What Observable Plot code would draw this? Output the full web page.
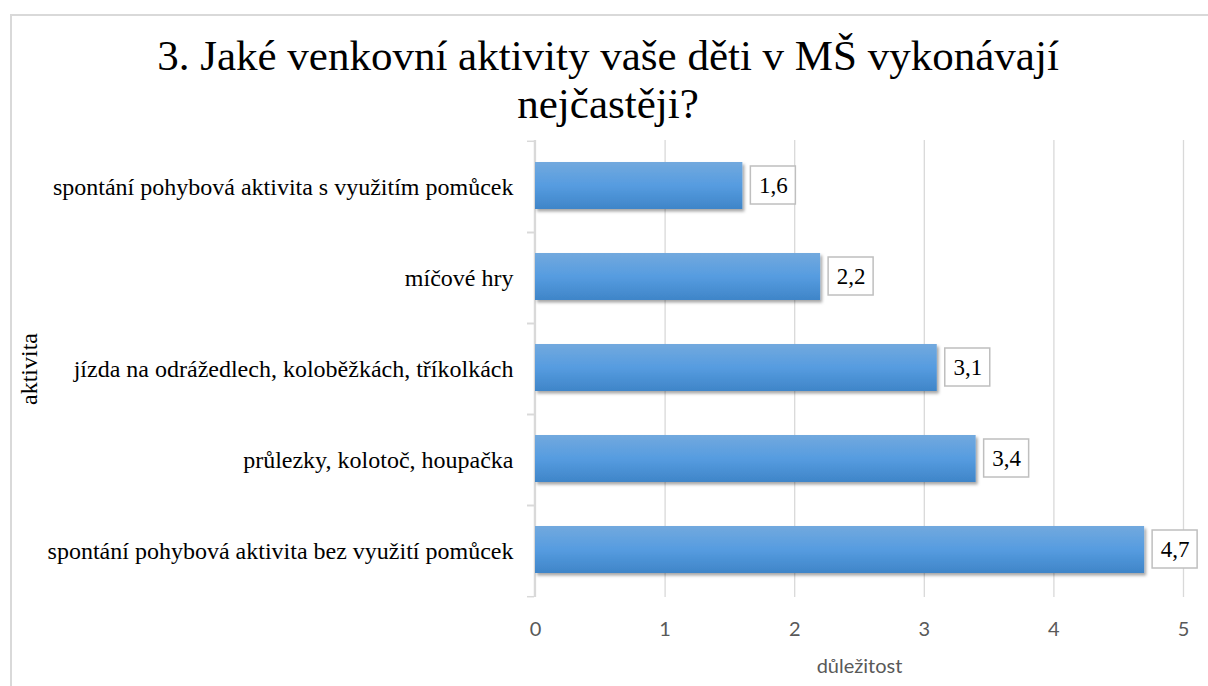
<!DOCTYPE html>
<html><head><meta charset="utf-8">
<script src="https://cdn.jsdelivr.net/npm/d3@7"></script>
<script src="https://cdn.jsdelivr.net/npm/@observablehq/plot@0.6"></script>
<style>
html,body{margin:0;padding:0;background:#fff;}
body{width:1208px;height:686px;position:relative;overflow:hidden;}
#frame{position:absolute;left:10px;top:14px;width:1400px;height:900px;border-left:2px solid #d9d9d9;border-top:2px solid #d9d9d9;box-sizing:border-box;}
#title{position:absolute;left:0;top:32px;width:1216px;text-align:center;font-family:"Liberation Serif","Times New Roman",serif;font-size:43px;line-height:48px;color:#000;z-index:2;}
#chart{position:absolute;left:0;top:0;z-index:1;}
</style></head>
<body>
<div id="frame"></div>
<div id="title"></div>
<div id="chart"></div>
<script>
const titleLines = ["3. Jaké venkovní aktivity vaše děti v MŠ vykonávají", "nejčastěji?"];
const categories = [
  "spontání pohybová aktivita s využitím pomůcek",
  "míčové hry",
  "jízda na odrážedlech, koloběžkách, tříkolkách",
  "průlezky, kolotoč, houpačka",
  "spontání pohybová aktivita bez využití pomůcek"
];
const values = [1.6, 2.2, 3.1, 3.4, 4.7];
const xTicks = [0, 1, 2, 3, 4, 5];
const xLabel = "důležitost";
const yLabel = "aktivita";

const data = categories.map((c, i) => ({category: c, value: values[i], label: String(values[i]).replace(".", ",")}));

const titleEl = document.getElementById("title");
titleEl.appendChild(document.createTextNode(titleLines[0]));
titleEl.appendChild(document.createElement("br"));
titleEl.appendChild(document.createTextNode(titleLines[1]));

const SERIF = "Liberation Serif, Times New Roman, serif";
const SANS = "Lato, Open Sans, sans-serif";
const W = 1208, H = 686, mL = 535, mR = 25, mT = 140, mB = 89;
const step = (H - mT - mB) / categories.length;

const plot = Plot.plot({
  width: W, height: H,
  marginLeft: mL, marginRight: mR, marginTop: mT, marginBottom: mB,
  style: {background: "transparent", overflow: "visible"},
  x: {domain: [0, 5], ticks: xTicks},
  y: {domain: categories, padding: 0},
  marks: [
    Plot.gridX(xTicks, {stroke: "#d9d9d9", strokeOpacity: 1, strokeWidth: 1.3}),
    Plot.ruleX([0], {stroke: "#d9d9d9", strokeWidth: 1.5, dx: -1}),
    Plot.axisY({tickSize: 7, dy: -step / 2, dx: -1, tickFormat: () => "", stroke: "#d9d9d9", strokeWidth: 1.5, label: null}),
    Plot.axisY({tickSize: 7, dy: step / 2, dx: -1, tickFormat: () => "", stroke: "#d9d9d9", strokeWidth: 1.5, label: null}),
    Plot.axisY({tickSize: 0, tickPadding: 22, fontSize: 24, fontFamily: SERIF, fill: "#000",
      label: yLabel, labelAnchor: "center", labelOffset: 516}),
    Plot.axisX(xTicks, {tickSize: 0, tickPadding: 24, fontSize: 20,
      fontFamily: SANS, fill: "#595959",
      tickFormat: d => String(d), label: xLabel, labelAnchor: "center", labelOffset: 75, labelArrow: "none"}),
    Plot.barX(data, {x: "value", y: "category", fill: "url(#barGrad)", insetTop: 21, insetBottom: 23}),
    Plot.barX(data, {x1: "value", x2: "value", y: "category", insetLeft: 8, insetRight: -53,
      insetTop: 25, insetBottom: 28, fill: "white", stroke: "#bfbfbf", strokeWidth: 1.5}),
    Plot.text(data, {x: "value", y: "category", text: "label", dx: 30.5, dy: -1, fontSize: 23, fontFamily: SERIF, fill: "#000"})
  ]
});

const svg = d3.select(plot);
svg.style("font-family", SERIF);
const defs = svg.insert("defs", ":first-child");
const grad = defs.append("linearGradient").attr("id", "barGrad")
  .attr("x1", 0).attr("y1", 0).attr("x2", 0).attr("y2", 1);
grad.append("stop").attr("offset", "0%").attr("stop-color", "#72a9de");
grad.append("stop").attr("offset", "50%").attr("stop-color", "#569ce0");
grad.append("stop").attr("offset", "100%").attr("stop-color", "#3f85c8");
const filt = defs.append("filter").attr("id", "shadow")
  .attr("x", "-5%").attr("y", "-20%").attr("width", "115%").attr("height", "160%");
filt.append("feDropShadow").attr("dx", 2).attr("dy", 2.5).attr("stdDeviation", 1.6)
  .attr("flood-color", "#000").attr("flood-opacity", 0.35);
const barGroups = plot.querySelectorAll('g[aria-label="bar"]');
if (barGroups.length) barGroups[0].setAttribute("filter", "url(#shadow)");

document.getElementById("chart").appendChild(plot);
</script>
</body></html>
